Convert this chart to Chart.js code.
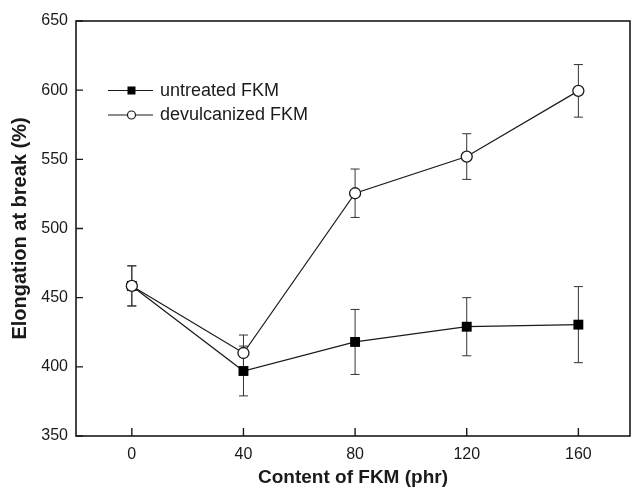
<!DOCTYPE html>
<html>
<head>
<meta charset="utf-8">
<script src="https://cdn.jsdelivr.net/npm/chart.js@4"></script>
<style>
  html, body { margin: 0; padding: 0; background: #fff; }
  #wrap { width: 631px; height: 493px; }
</style>
</head>
<body>
<div id="wrap"><canvas id="c" width="631" height="493"></canvas></div>
<script>
// ---- data ----
const contentPhr = [0, 40, 80, 120, 160];
const untreatedFKM = [458.5, 397, 418, 429, 430.5];
const untreatedErr = [14.5, 18, 23.5, 21, 27.5];
const devulcanizedFKM = [458.5, 410, 525.5, 552, 599.5];
const devulcanizedErr = [14.5, 13, 17.5, 16.5, 19];
const yTickValues = [350, 400, 450, 500, 550, 600, 650];
const seriesLabels = ['untreated FKM', 'devulcanized FKM'];
const xTitle = 'Content of FKM (phr)';
const yTitle = 'Elongation at break (%)';

const FONT = '"Liberation Sans", Arial, Helvetica, sans-serif';
const INK = '#1a1a1a';

function toPoints(xs, ys) { return xs.map((x, i) => ({ x: x, y: ys[i] })); }

const errorBarPlugin = {
  id: 'errorBars',
  beforeDatasetsDraw(chart) {
    const { ctx, scales } = chart;
    const xs = scales.x, ys = scales.y;
    ctx.save();
    ctx.strokeStyle = '#333';
    ctx.lineWidth = 1;
    chart.data.datasets.forEach(ds => {
      const errs = ds.errors || [];
      ds.data.forEach((p, i) => {
        const e = errs[i];
        if (e == null) return;
        const px = xs.getPixelForValue(p.x);
        const top = ys.getPixelForValue(p.y + e);
        const bot = ys.getPixelForValue(p.y - e);
        const cap = 4.5;
        ctx.beginPath();
        ctx.moveTo(px, top); ctx.lineTo(px, bot);
        ctx.moveTo(px - cap, top); ctx.lineTo(px + cap, top);
        ctx.moveTo(px - cap, bot); ctx.lineTo(px + cap, bot);
        ctx.stroke();
      });
    });
    ctx.restore();
  }
};

const framePlugin = {
  id: 'frame',
  afterDraw(chart) {
    const { ctx, chartArea: a, scales } = chart;
    ctx.save();
    ctx.strokeStyle = INK;
    ctx.lineWidth = 1.6;
    ctx.strokeRect(a.left, a.top, a.right - a.left, a.bottom - a.top);
    ctx.lineWidth = 1.4;
    ctx.beginPath();
    scales.x.ticks.forEach(t => {
      const px = scales.x.getPixelForValue(t.value);
      ctx.moveTo(px, a.bottom); ctx.lineTo(px, a.bottom - 8);
    });
    scales.y.ticks.forEach(t => {
      const py = scales.y.getPixelForValue(t.value);
      ctx.moveTo(a.left, py); ctx.lineTo(a.left + 7, py);
    });
    ctx.stroke();
    ctx.restore();
  }
};

const legendPlugin = {
  id: 'inlineLegend',
  afterDraw(chart) {
    const { ctx, chartArea: a } = chart;
    ctx.save();
    chart.data.datasets.forEach((ds, i) => {
      const y = a.top + 69.5 + i * 24.5;
      const x0 = a.left + 32, x1 = a.left + 77, xm = a.left + 55.5;
      ctx.strokeStyle = INK; ctx.lineWidth = 1.2;
      ctx.beginPath(); ctx.moveTo(x0, y); ctx.lineTo(x1, y); ctx.stroke();
      if (ds.pointStyle === 'rect') {
        ctx.fillStyle = '#000';
        ctx.fillRect(xm - 4, y - 4, 8, 8);
      } else {
        ctx.beginPath(); ctx.arc(xm, y, 4, 0, Math.PI * 2);
        ctx.fillStyle = '#fff'; ctx.fill();
        ctx.lineWidth = 1.2; ctx.stroke();
      }
      ctx.fillStyle = INK;
      ctx.font = '18px ' + FONT;
      ctx.textBaseline = 'middle';
      ctx.textAlign = 'left';
      ctx.fillText(ds.label, a.left + 84, y + 0.5);
    });
    ctx.restore();
  }
};

new Chart(document.getElementById('c'), {
  type: 'scatter',
  data: {
    datasets: [
      {
        label: seriesLabels[0],
        data: toPoints(contentPhr, untreatedFKM),
        errors: untreatedErr,
        order: 1,
        showLine: true,
        borderColor: INK,
        borderWidth: 1.2,
        backgroundColor: '#000',
        pointStyle: 'rect',
        pointRadius: 7,
        pointBorderWidth: 0,
        pointBorderColor: '#000',
        pointBackgroundColor: '#000'
      },
      {
        label: seriesLabels[1],
        data: toPoints(contentPhr, devulcanizedFKM),
        errors: devulcanizedErr,
        order: 0,
        showLine: true,
        borderColor: INK,
        borderWidth: 1.2,
        pointStyle: 'circle',
        pointRadius: 5.5,
        pointBorderWidth: 1.3,
        pointBorderColor: INK,
        pointBackgroundColor: '#fff'
      }
    ]
  },
  options: {
    responsive: false,
    animation: false,
    devicePixelRatio: 1,
    layout: { autoPadding: false, padding: { left: 0, top: 21, right: 1, bottom: 0 } },
    plugins: { legend: { display: false }, tooltip: { enabled: false } },
    scales: {
      x: {
        type: 'linear',
        min: -20, max: 178.5,
        afterBuildTicks: s => { s.ticks = contentPhr.map(v => ({ value: v })); },
        afterFit: s => { s.height = 57; s.paddingLeft = 0; s.paddingRight = 0; },
        grid: { display: false, drawTicks: false },
        border: { display: false },
        ticks: { color: INK, font: { family: FONT, size: 16 }, padding: 9, maxRotation: 0 },
        title: { display: true, text: xTitle, color: INK, font: { family: FONT, size: 19, weight: 'bold' }, padding: { top: 0, bottom: 4 } }
      },
      y: {
        type: 'linear',
        min: 350, max: 650,
        afterBuildTicks: s => { s.ticks = yTickValues.map(v => ({ value: v })); },
        afterFit: s => { s.width = 76; },
        grid: { display: false, drawTicks: false },
        border: { display: false },
        ticks: { color: INK, font: { family: FONT, size: 16 }, padding: 8 },
        title: { display: true, text: yTitle, color: INK, font: { family: FONT, size: 20, weight: 'bold' }, padding: { top: 8, bottom: 0 } }
      }
    }
  },
  plugins: [errorBarPlugin, framePlugin, legendPlugin]
});
</script>
</body>
</html>
